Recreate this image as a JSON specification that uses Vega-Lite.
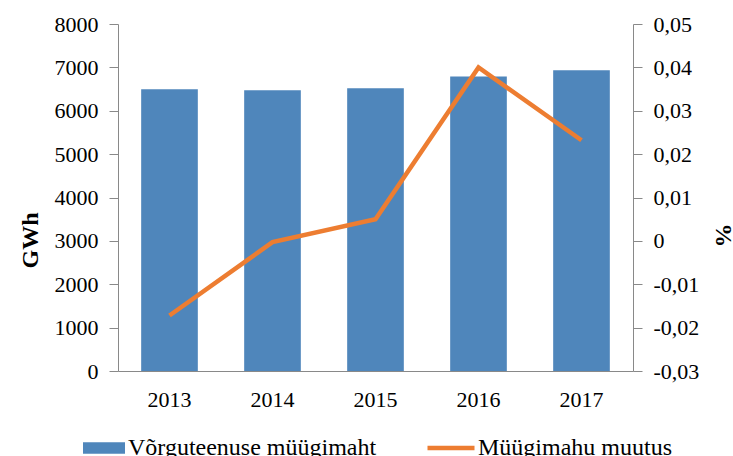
{
  "$schema": "https://vega.github.io/schema/vega-lite/v6.json",
  "width": 515,
  "height": 347,
  "autosize": "none",
  "padding": {"left": 118, "top": 24, "right": 100, "bottom": 85},
  "background": "white",
  "config": {
    "font": "Liberation Serif",
    "view": {"stroke": null},
    "axis": {"labelFont": "Liberation Serif", "titleFont": "Liberation Serif", "labelColor": "#000", "titleColor": "#000", "domainColor": "#898989", "tickColor": "#898989", "grid": false},
    "legend": {"padding": 0, "labelFont": "Liberation Serif", "labelColor": "#000", "labelLimit": 400}
  },
  "data": {
    "values": [
      {"year": "2013", "gwh": 6495, "change": -0.0172},
      {"year": "2014", "gwh": 6470, "change": -0.0003},
      {"year": "2015", "gwh": 6520, "change": 0.005},
      {"year": "2016", "gwh": 6790, "change": 0.040},
      {"year": "2017", "gwh": 6935, "change": 0.0232}
    ]
  },
  "encoding": {
    "x": {
      "field": "year", "type": "ordinal",
      "scale": {"paddingInner": 0.45, "paddingOuter": 0.225},
      "axis": {"title": null, "labelAngle": 0, "labelFontSize": 22, "ticks": false, "labelPadding": 18, "domainWidth": 1}
    }
  },
  "layer": [
    {
      "mark": {"type": "bar"},
      "encoding": {
        "y": {
          "field": "gwh", "type": "quantitative",
          "scale": {"domain": [0, 8000], "nice": false},
          "axis": {"title": "GWh", "titleFontSize": 24, "titleFontWeight": "bold", "titleX": -88, "titleY": 216, "titleBaseline": "middle", "labelFontSize": 22, "values": [0,1000,2000,3000,4000,5000,6000,7000,8000], "format": "d", "tickSize": 9, "labelPadding": 11}
        },
        "color": {
          "datum": "Võrguteenuse müügimaht",
          "type": "nominal",
          "scale": {"range": ["#4f86bb"]},
          "legend": {"title": null, "orient": "none", "legendX": -35, "legendY": 403, "labelFontSize": 24, "labelLimit": 400, "symbolType": "M-1,-0.27H1V0.27H-1Z", "symbolSize": 1764, "symbolOpacity": 1, "symbolStrokeWidth": 0, "labelOffset": 3}
        }
      }
    },
    {
      "mark": {"type": "line", "strokeWidth": 4.5},
      "encoding": {
        "y": {
          "field": "change", "type": "quantitative",
          "scale": {"domain": [-0.03, 0.05], "nice": false, "zero": false},
          "axis": {"orient": "right", "title": "%", "titleFontSize": 24, "titleFontWeight": "bold", "titleAngle": 270, "titleBaseline": "middle", "titleX": 90, "titleY": 211, "labelFontSize": 22, "values": [-0.03,-0.02,-0.01,0,0.01,0.02,0.03,0.04,0.05], "labelExpr": "datum.value == 0 ? '0' : replace(replace(format(datum.value, '.2f'), '.', ','), '\u2212', '-')", "tickSize": 9, "labelPadding": 11}
        },
        "stroke": {
          "datum": "Müügimahu muutus",
          "type": "nominal",
          "scale": {"range": ["#ed7d31"]},
          "legend": {"title": null, "orient": "none", "legendX": 307, "legendY": 398, "labelFontSize": 24, "labelLimit": 400, "symbolType": "stroke", "symbolSize": 2209, "symbolStrokeWidth": 4.5, "labelOffset": 1}
        }
      }
    }
  ],
  "resolve": {"scale": {"y": "independent", "color": "independent", "stroke": "independent"}}
}
